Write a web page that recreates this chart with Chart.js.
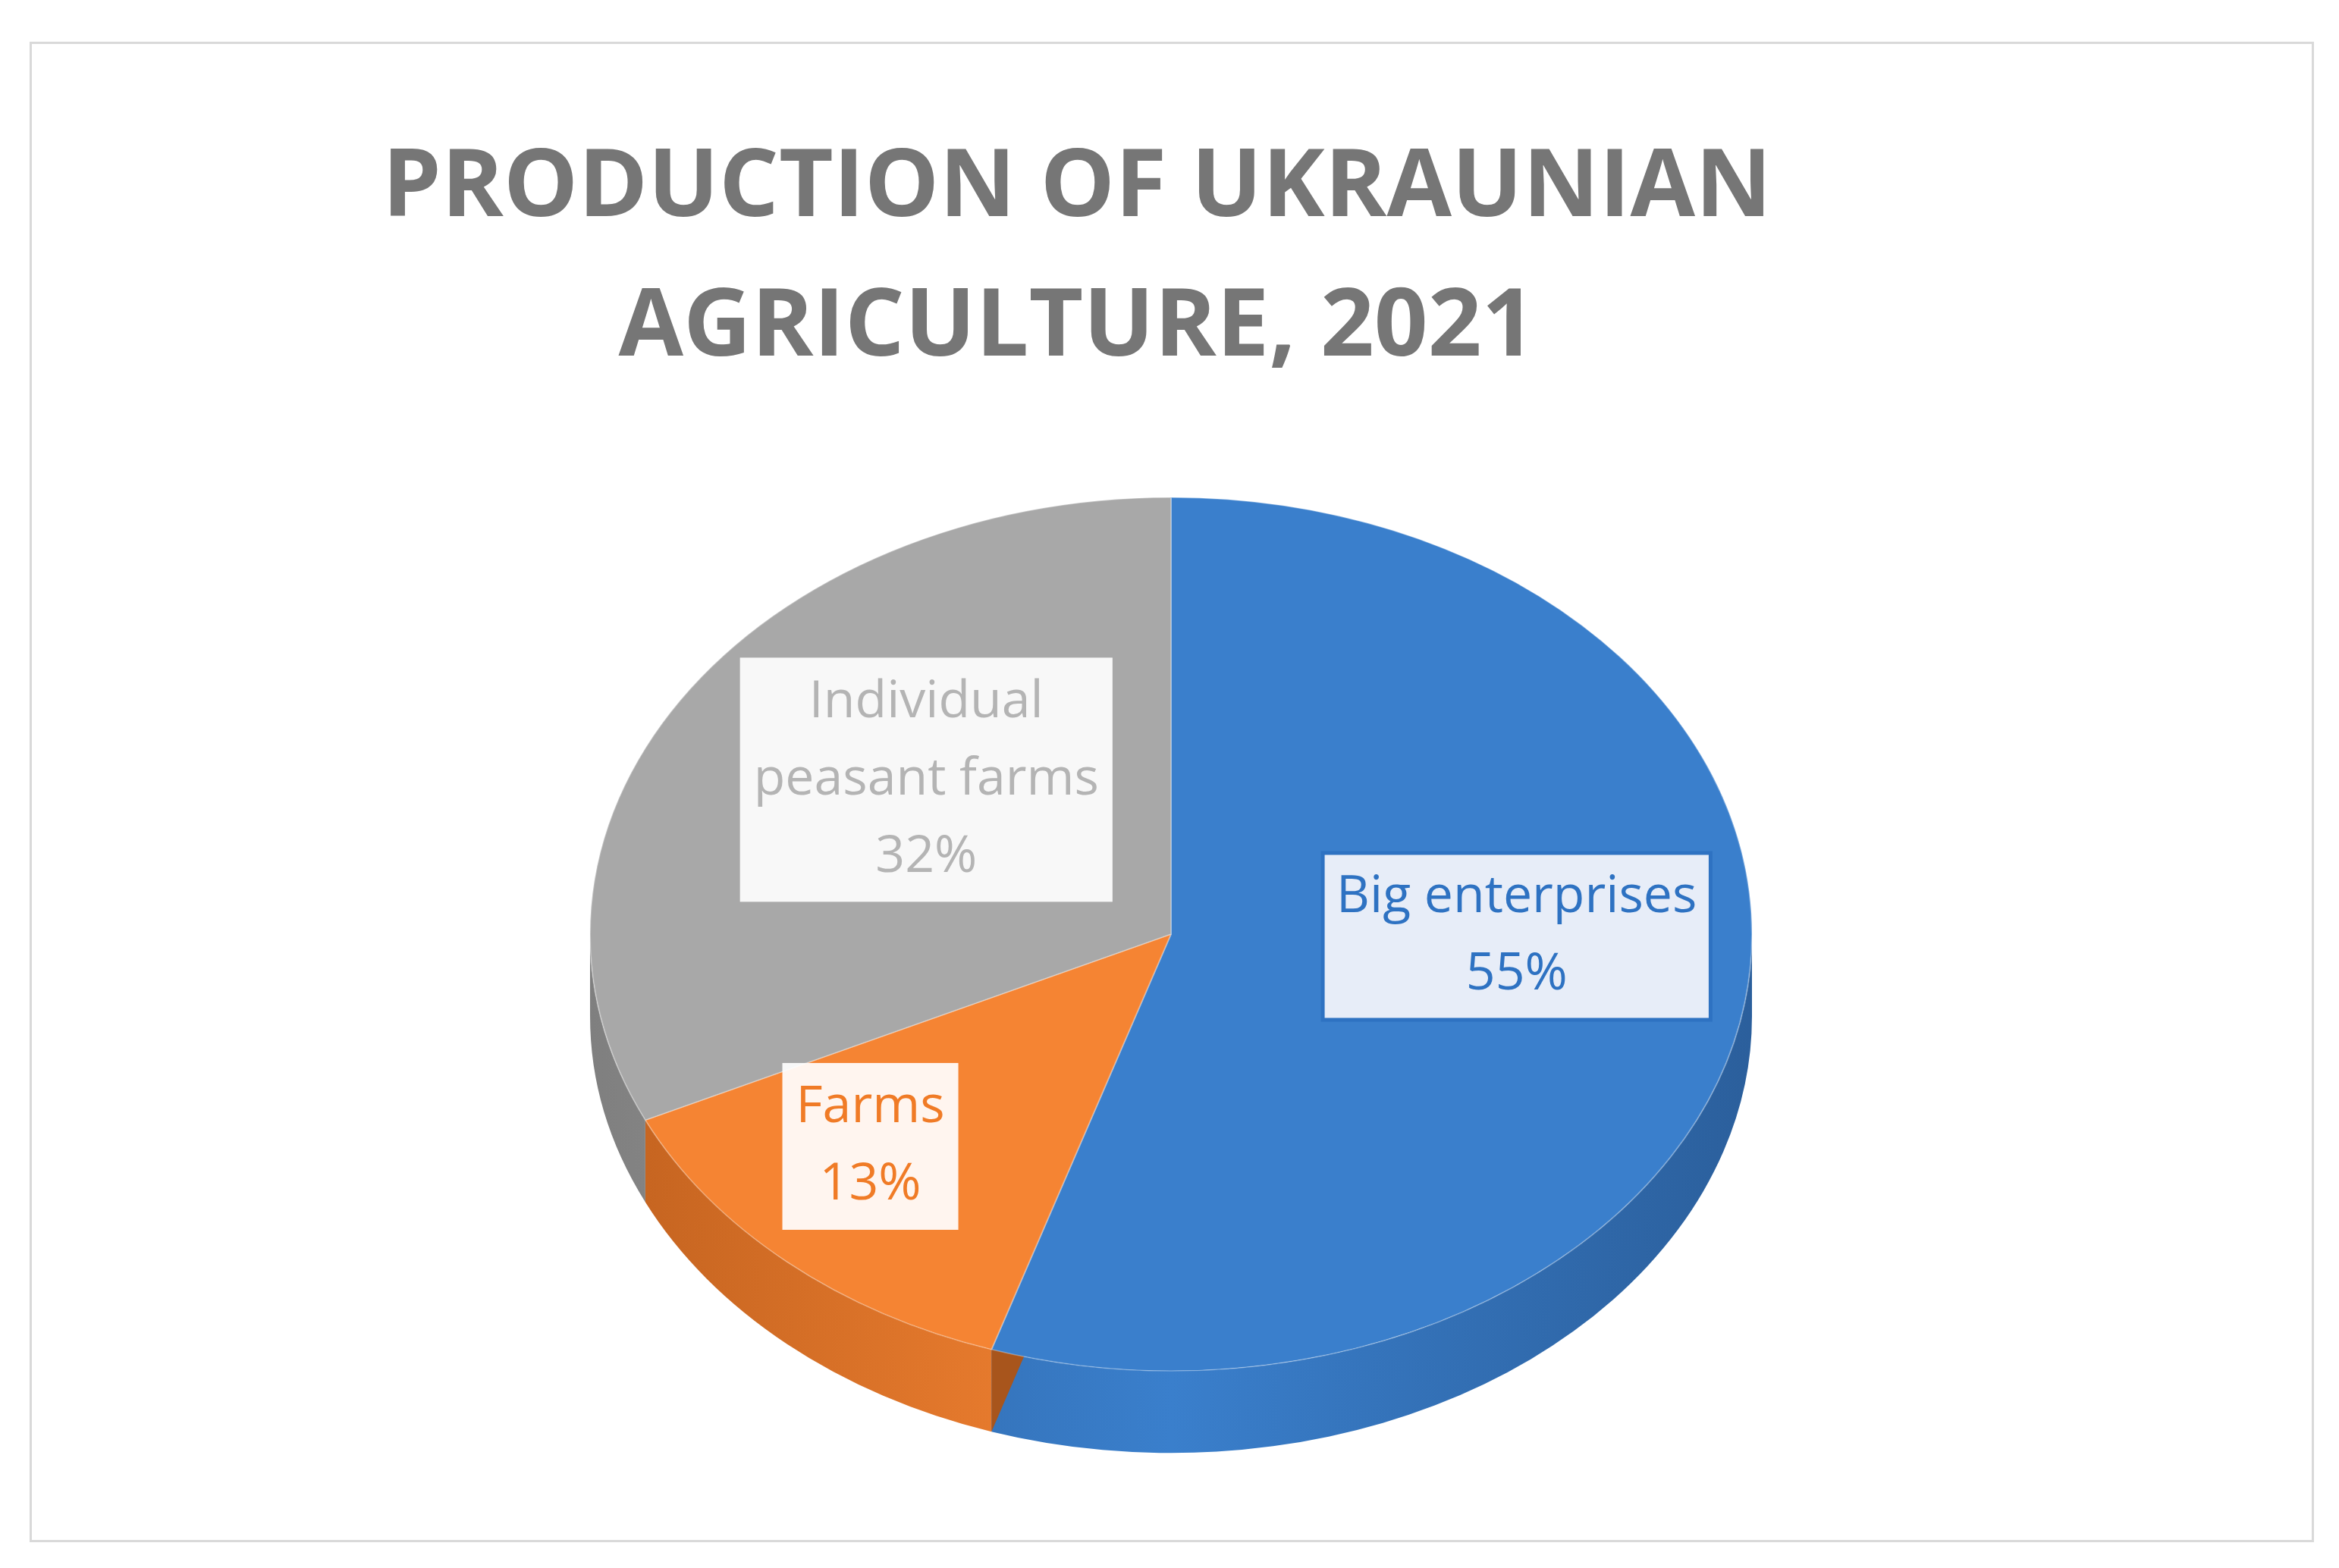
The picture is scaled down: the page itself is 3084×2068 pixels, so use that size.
<!DOCTYPE html>
<html><head><meta charset="utf-8">
<script src="https://cdn.jsdelivr.net/npm/chart.js@4"></script>
<style>
html,body{margin:0;padding:0;background:#fff;width:3084px;height:2068px;overflow:hidden}
#frame{position:absolute;left:39px;top:55px;width:3012px;height:1979px;border:3px solid #d9d9d9;box-sizing:border-box}
#title{position:absolute;left:0;width:2840px;top:145px;text-align:center;font:bold 124px "Open Sans",sans-serif;color:#767676;line-height:184px}
#wrap{position:absolute;left:0;top:0;width:3084px;height:2068px}
</style></head><body>
<div id="frame"></div>
<div id="title">PRODUCTION OF UKRAUNIAN<br>AGRICULTURE, 2021</div>
<div id="wrap"><canvas id="c"></canvas></div>
<script>
const categories = ["Big enterprises", "Farms", "Individual peasant farms"];
const values = [55, 13, 32];
const labelLines = [["Big enterprises","55%"],["Farms","13%"],["Individual","peasant farms","32%"]];
const colors = ["#3a7fcc", "#f58433", "#a8a8a8"];
const sideColors = ["#2b5f9c", "#c2621f", "#7f7f7f"];
const textColors = ["#2e72c2", "#f07b26", "#b4b4b4"];

const YS = 0.752, THICK = 144;
const labelR = [0.595, 0.71, 0.55];
const labelAngShift = [-8.5, 5.4, 7.6];

const pie3d = {
  id: 'pie3d',
  beforeDatasetsDraw(chart) {
    const ctx = chart.ctx;
    const arcs = chart.getDatasetMeta(0).data;
    const cx = arcs[0].x, cy = arcs[0].y;
    ctx.save();
    ctx.translate(cx, cy); ctx.scale(1, YS); ctx.translate(-cx, -cy);
    arcs.forEach((a, i) => {
      let s = a.startAngle, e;
      const norm = v => { while (v < -Math.PI/2) v += 2*Math.PI; return v; };
      s = norm(s); e = s + (a.endAngle - a.startAngle);
      const s1 = Math.max(s, 0), e1 = Math.min(e, Math.PI);
      if (e1 > s1) {
        const r = a.outerRadius;
        ctx.beginPath();
        ctx.arc(cx, cy, r, s1, e1);
        ctx.arc(cx, cy + THICK, r, e1, s1, true);
        ctx.closePath();
        const g = ctx.createLinearGradient(cx - r, 0, cx + r, 0);
        g.addColorStop(0, sideColors[i]); g.addColorStop(0.5, colors[i]); g.addColorStop(1, sideColors[i]);
        ctx.fillStyle = g; ctx.fill();
      }
    });
    const f = arcs[1]; const ang = f.startAngle, r = f.outerRadius;
    ctx.beginPath();
    ctx.moveTo(cx, cy); ctx.lineTo(cx + r*Math.cos(ang), cy + r*Math.sin(ang));
    ctx.lineTo(cx + r*Math.cos(ang), cy + r*Math.sin(ang) + THICK); ctx.lineTo(cx, cy + THICK);
    ctx.closePath(); ctx.fillStyle = "#a8551c"; ctx.fill();
    ctx.restore();
    ctx.save();
    ctx.translate(cx, cy); ctx.scale(1, YS); ctx.translate(-cx, -cy);
  },
  afterDatasetsDraw(chart) {
    const ctx = chart.ctx;
    ctx.restore();
    const arcs = chart.getDatasetMeta(0).data;
    const cx = arcs[0].x, cy = arcs[0].y;
    ctx.save();
    ctx.font = '68px "Open Sans", sans-serif';
    ctx.textAlign = 'center'; ctx.textBaseline = 'middle';
    arcs.forEach((a, i) => {
      const m = (a.startAngle + a.endAngle) / 2 + labelAngShift[i] * Math.PI / 180;
      const x = cx + Math.cos(m) * a.outerRadius * labelR[i];
      const y = cy + Math.sin(m) * a.outerRadius * labelR[i] * YS;
      const lines = labelLines[i], lh = 102;
      const w = Math.max(...lines.map(l => ctx.measureText(l).width)) + 36;
      const h = lines.length * lh + 16;
      ctx.fillStyle = i === 0 ? "rgba(236,241,249,0.97)" : "rgba(255,255,255,0.92)";
      ctx.fillRect(x - w/2, y - h/2, w, h);
      if (i === 0) { ctx.strokeStyle = "#2e72c2"; ctx.lineWidth = 5; ctx.strokeRect(x - w/2, y - h/2, w, h); }
      ctx.fillStyle = textColors[i];
      lines.forEach((l, k) => ctx.fillText(l, x, y - h/2 + 8 + lh*(k + 0.5)));
    });
    ctx.restore();
  }
};

new Chart(document.getElementById('c'), {
  type: 'pie',
  data: { labels: categories, datasets: [{ data: values, backgroundColor: colors, borderColor: "rgba(255,255,255,0.3)", borderWidth: 2 }] },
  options: {
    responsive: true, maintainAspectRatio: false, animation: false,
    layout: { padding: { left: 777, right: 773, top: 465, bottom: 69 } },
    plugins: { legend: { display: false }, tooltip: { enabled: false } }
  },
  plugins: [pie3d]
});
</script>
</body></html>
